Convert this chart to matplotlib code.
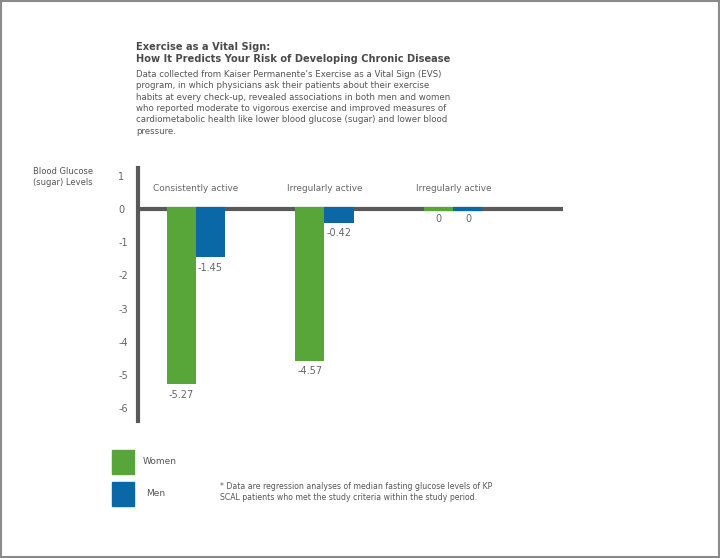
import numpy as np
import matplotlib
matplotlib.use("Agg")
import matplotlib.pyplot as plt
from matplotlib.patches import Rectangle

groups = ["Consistently active", "Irregularly active", "Irregularly active"]
women = [-5.27, -4.57, 0]
men = [-1.45, -0.42, 0]
value_labels_w = ["-5.27", "-4.57", "0"]
value_labels_m = ["-1.45", "-0.42", "0"]
yticks = [1, 0, -1, -2, -3, -4, -5, -6]

green = "#58a53a"
blue = "#0b68a6"
axis_grey = "#595959"
text_grey = "#666666"

plt.rcParams['font.family'] = ['DejaVu Sans']

fig = plt.figure(figsize=(7.2, 5.58), dpi=100)
ax = fig.add_axes([0.191, 0.246, 0.591, 0.453])

x = np.arange(len(groups))
w = 0.225
bw = ax.bar(x - w / 2, women, w, color=green, zorder=3)
bm = ax.bar(x + w / 2, men, w, color=blue, zorder=3)

ax.axhline(0, color=axis_grey, lw=3, zorder=2)
# coloured caps on the zero line (shows the zero-height bars too)
for bars, col in [(bw, green), (bm, blue)]:
    for p in bars:
        ax.hlines(0, p.get_x(), p.get_x() + p.get_width(), color=col, lw=3, zorder=4)

for bars, labs in [(bw, value_labels_w), (bm, value_labels_m)]:
    for p, lab in zip(bars, labs):
        ax.annotate(lab, (p.get_x() + p.get_width() / 2, p.get_height()),
                    xytext=(0, -4), textcoords="offset points",
                    ha="center", va="top", fontsize=7, color=text_grey)

for xi, g in zip(x, groups):
    ax.text(xi, 0.62, g, ha="center", va="center", fontsize=6.4, color=text_grey)

ax.set_xlim(-0.45, 2.85)
ax.set_ylim(-6.37, 1.23)
ax.set_xticks([])
ax.set_yticks(yticks)
ax.set_yticklabels([str(t) for t in yticks], ha="left")
ax.tick_params(axis="y", length=0, pad=14, labelsize=7, labelcolor=text_grey)
for s in ["top", "right", "bottom"]:
    ax.spines[s].set_visible(False)
ax.spines["left"].set_linewidth(3)
ax.spines["left"].set_color(axis_grey)

W, H = 720, 558
def fx(px):
    return px / W
def fy(py):
    return 1 - py / H

fig.text(fx(33), fy(167), "Blood Glucose\n(sugar) Levels", ha="left", va="top",
         fontsize=6, color="#555555", linespacing=1.35)

fig.text(fx(136), fy(42), "Exercise as a Vital Sign:\nHow It Predicts Your Risk of Developing Chronic Disease",
         ha="left", va="top", fontsize=7.1, fontweight="bold", color="#4a4a4a", linespacing=1.3)

body = ("Data collected from Kaiser Permanente's Exercise as a Vital Sign (EVS)\n"
        "program, in which physicians ask their patients about their exercise\n"
        "habits at every check-up, revealed associations in both men and women\n"
        "who reported moderate to vigorous exercise and improved measures of\n"
        "cardiometabolic health like lower blood glucose (sugar) and lower blood\n"
        "pressure.")
fig.text(fx(136), fy(70), body, ha="left", va="top", fontsize=6.25, color="#555555", linespacing=1.33)

# legend
fig.patches.append(Rectangle((fx(112), fy(474)), 22 / W, 24 / H, transform=fig.transFigure,
                             color=green, figure=fig))
fig.patches.append(Rectangle((fx(112), fy(506)), 22 / W, 24 / H, transform=fig.transFigure,
                             color=blue, figure=fig))
fig.text(fx(143), fy(461), "Women", ha="left", va="center", fontsize=6.5, color="#555555")
fig.text(fx(146), fy(493), "Men", ha="left", va="center", fontsize=6.5, color="#555555")

fig.text(fx(220), fy(482), "* Data are regression analyses of median fasting glucose levels of KP\n"
         "SCAL patients who met the study criteria within the study period.",
         ha="left", va="top", fontsize=5.55, color="#555555", linespacing=1.25)

fig.patches.append(Rectangle((0.001, 0.002), 0.997, 0.996, transform=fig.transFigure,
                             fill=False, edgecolor="#8a8a8a", lw=1.5, figure=fig))

fig.savefig("out.png", dpi=100)
